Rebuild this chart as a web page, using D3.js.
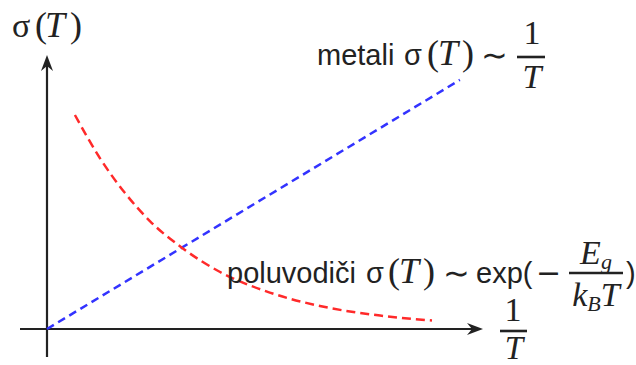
<!DOCTYPE html>
<html>
<head>
<meta charset="utf-8">
<script src="https://cdn.jsdelivr.net/npm/d3@7"></script>
<style>
  body { margin: 0; background: #fff; }
  svg { display: block; }
</style>
</head>
<body>
<div id="chart"></div>
<script>
// data (arbitrary units, 0..10 on both axes)
var metalX = [0, 9.47];
var metalY = [0, 9.09];
var semiX = [0.64, 1.22, 1.79, 2.36, 3.10, 3.97, 5.11, 6.26, 7.64, 8.83];
var semiY = [7.81, 6.22, 4.96, 3.94, 2.96, 2.08, 1.33, 0.84, 0.49, 0.31];

var width = 636, height = 365;
var sans = "'Liberation Sans', Arial, sans-serif";
var serif = "'Liberation Serif', 'DejaVu Serif', serif";
var sym = "'DejaVu Sans', sans-serif";
var ink = "#222";

var svg = d3.select("#chart")
  .append("svg")
    .attr("width", width)
    .attr("height", height);

var x = d3.scaleLinear().domain([0, 10]).range([47, 483]);
var y = d3.scaleLinear().domain([0, 10]).range([329, 55]);

// axes
svg.append("line")
  .attr("x1", 20).attr("x2", x(10) - 8)
  .attr("y1", y(0)).attr("y2", y(0))
  .attr("stroke", ink).attr("stroke-width", 2.2);
svg.append("line")
  .attr("x1", x(0)).attr("x2", x(0))
  .attr("y1", 357).attr("y2", y(10) + 8)
  .attr("stroke", ink).attr("stroke-width", 2.2);

// arrow heads
svg.append("path")
  .attr("d", `M${x(10)},${y(0)} L${x(10) - 16},${y(0) - 6} L${x(10) - 11},${y(0)} L${x(10) - 16},${y(0) + 6} Z`)
  .attr("fill", ink);
svg.append("path")
  .attr("d", `M${x(0)},${y(10)} L${x(0) - 6},${y(10) + 16} L${x(0)},${y(10) + 11} L${x(0) + 6},${y(10) + 16} Z`)
  .attr("fill", ink);

// metal line
var line = d3.line().x(d => x(d[0])).y(d => y(d[1]));
svg.append("path")
  .datum(d3.zip(metalX, metalY))
  .attr("d", line)
  .attr("fill", "none")
  .attr("stroke", "#3333ff")
  .attr("stroke-width", 2.5)
  .attr("stroke-dasharray", "8,5");

// semiconductor curve
svg.append("path")
  .datum(d3.zip(semiX, semiY))
  .attr("d", line.curve(d3.curveMonotoneX))
  .attr("fill", "none")
  .attr("stroke", "#ff2a2a")
  .attr("stroke-width", 2.5)
  .attr("stroke-dasharray", "9,5");

// label helpers
function piece(px, py, txt, font, size, italic, anchor) {
  return svg.append("text")
    .attr("x", px).attr("y", py)
    .attr("font-family", font)
    .attr("font-size", size)
    .attr("font-style", italic ? "italic" : "normal")
    .attr("text-anchor", anchor || "start")
    .attr("fill", ink)
    .text(txt);
}
function bar(x1, x2, by) {
  svg.append("line")
    .attr("x1", x1).attr("x2", x2)
    .attr("y1", by).attr("y2", by)
    .attr("stroke", ink).attr("stroke-width", 2.6);
}

// y axis label  σ(T)
piece(12, 37, "σ", serif, 34);
piece(35, 37, "(", serif, 36);
piece(45, 37, "T", serif, 36, true);
piece(70, 37, ")", serif, 36);

// x axis label  1/T
piece(513, 321, "1", serif, 34, false, "middle");
bar(500, 527, 331);
piece(514, 359, "T", serif, 33, true, "middle");

// metals label
piece(317, 65, "metali", sans, 29);
piece(404, 65, "σ", sans, 29);
piece(427, 65, "(", serif, 36);
piece(438, 65, "T", serif, 36, true);
piece(462, 65, ")", serif, 36);
piece(481, 66, "∼", sym, 32);
piece(532, 44, "1", serif, 34, false, "middle");
bar(517, 545, 57);
piece(532, 88, "T", serif, 34, true, "middle");

// semiconductor label
piece(227, 283, "poluvodiči", sans, 29);
piece(366, 283, "σ", sans, 29);
piece(388, 283, "(", serif, 36);
piece(399, 283, "T", serif, 36, true);
piece(423, 283, ")", serif, 36);
piece(443, 284, "∼", sym, 32);
piece(476, 283, "exp(", sans, 29);
piece(536, 283, "−", sym, 30);
var num = piece(596, 264, "E", serif, 34, true, "middle");
num.append("tspan").attr("font-size", 22).attr("dy", 5).text("g");
bar(569, 623, 273);
var den = piece(596, 306, "k", serif, 34, true, "middle");
den.append("tspan").attr("font-size", 22).attr("dy", 5).text("B");
den.append("tspan").attr("dy", -5).text("T");
piece(626, 283, ")", sans, 29);
</script>
</body>
</html>
